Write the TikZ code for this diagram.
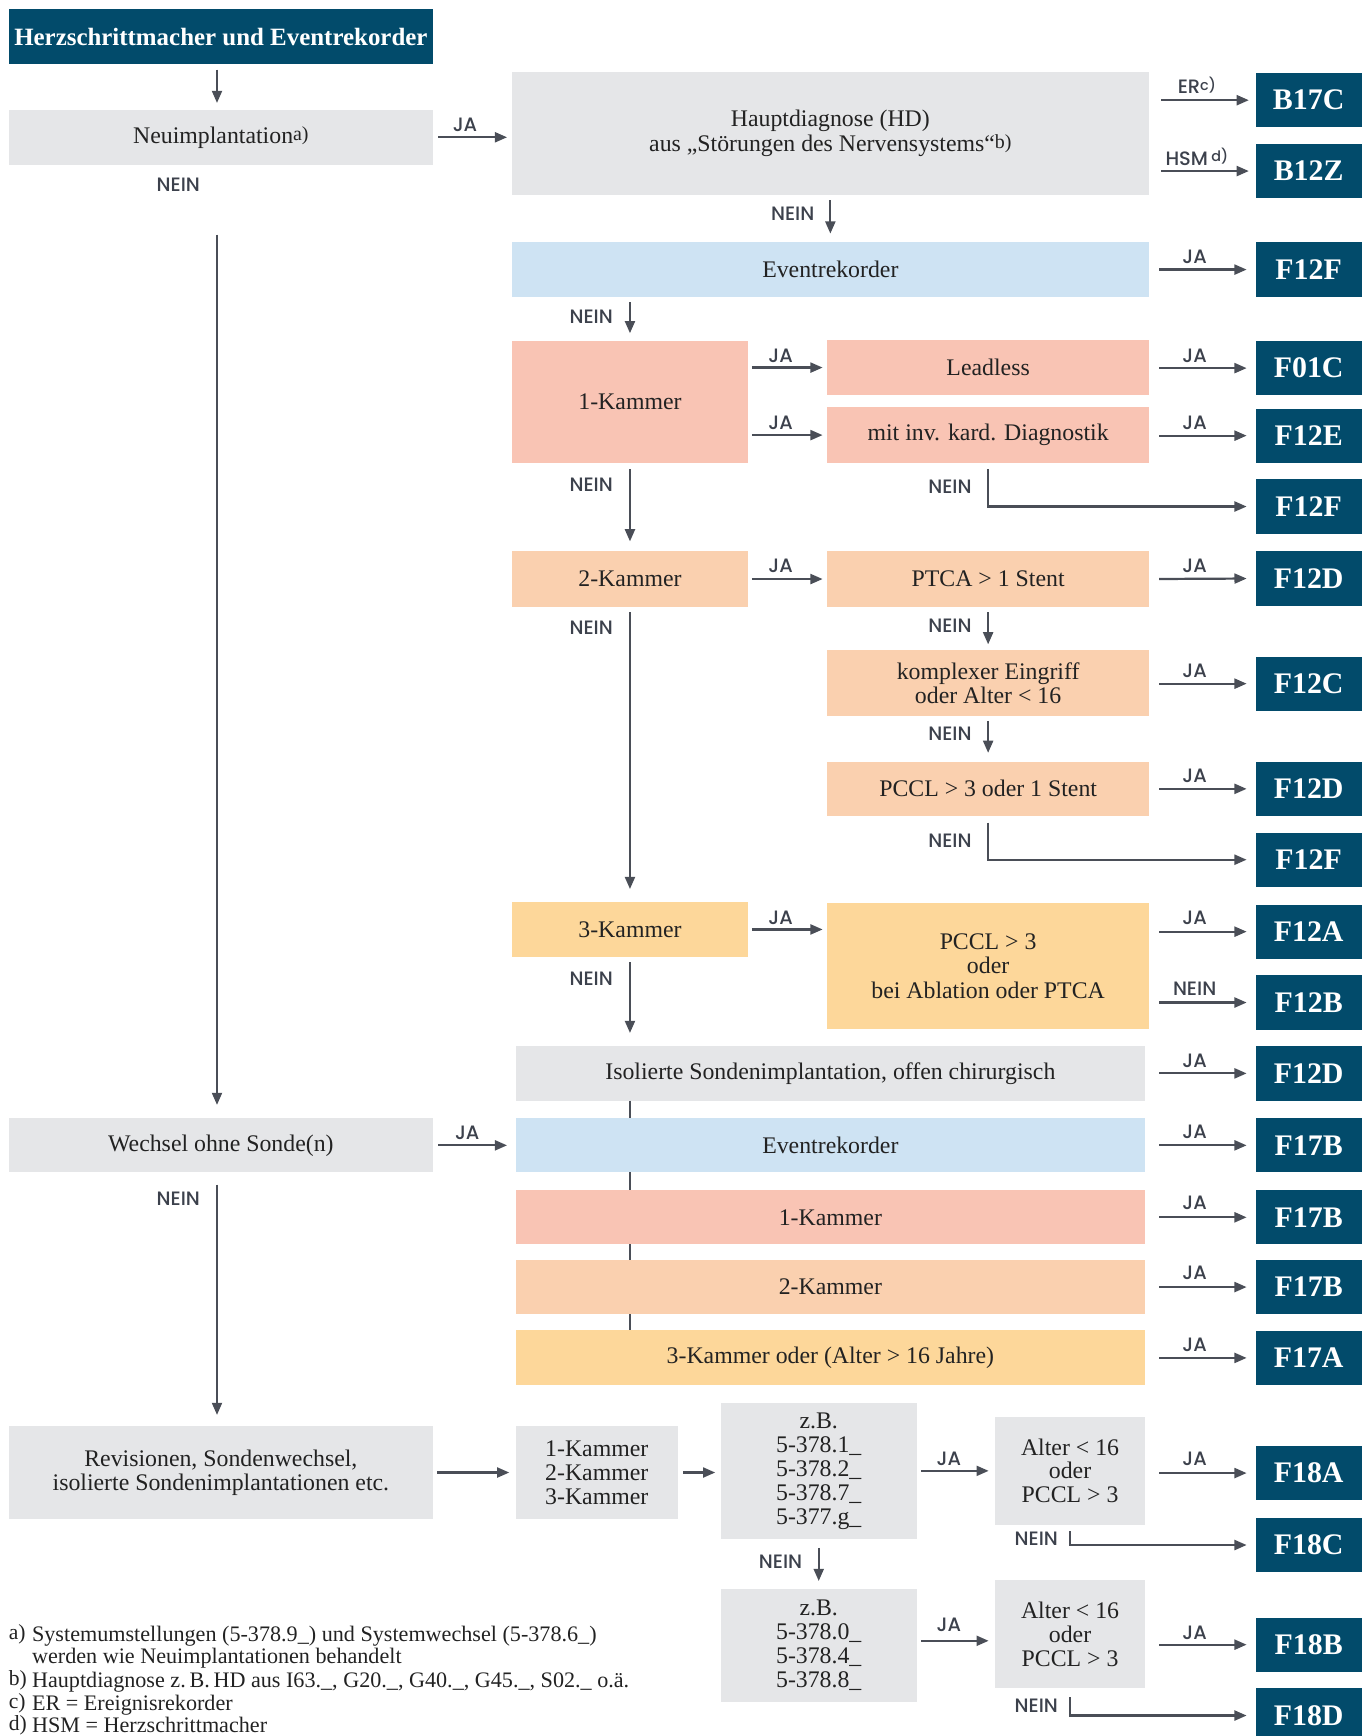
\documentclass[tikz,border=0pt]{standalone}
\usepackage{fontspec}
\setmainfont{Liberation Serif}
\newfontfamily\labfamily{Poppins Medium}
\usetikzlibrary{arrows.meta}
\definecolor{cgray}{HTML}{E5E6E8}
\definecolor{cblue}{HTML}{CEE3F3}
\definecolor{csalmon}{HTML}{F9C4B4}
\definecolor{cpeach}{HTML}{FAD0AF}
\definecolor{corange}{HTML}{FDD79A}
\definecolor{cdark}{HTML}{024B6B}
\definecolor{carr}{HTML}{4A4E57}
\definecolor{clab}{HTML}{3C414C}
\definecolor{ctxt}{HTML}{222222}
\newcommand\bodyf{\fontsize{21.5}{22}\selectfont}
\newcommand\titlef{\fontsize{22.5}{24}\selectfont\bfseries}
\newcommand\codef{\fontsize{27}{30}\selectfont\bfseries}
\newcommand\labf{\fontsize{17.5}{18}\selectfont\labfamily}
\newcommand\fnf{\fontsize{20}{21.3}\selectfont}
\newcommand\supm[1]{\raisebox{2.5pt}{\fontsize{18}{18}\selectfont #1}}
\newcommand\fnm[1]{\makebox[21pt][l]{\raisebox{2pt}{\fontsize{19.5}{19.5}\selectfont #1}}}
\newcommand\labsup[1]{\raisebox{3.5pt}{\fontsize{13}{13}\selectfont #1}}
\begin{document}
\begin{tikzpicture}[x=1pt,y=-1pt,
  every node/.style={inner sep=0pt, outer sep=0pt},
  box/.style={rectangle, align=center, text=ctxt, font=\bodyf, anchor=north west},
  code/.style={rectangle, fill=cdark, text=white, font=\codef, minimum width=96, minimum height=49, anchor=north west},
  lab/.style={font=\labf, text=clab},
  fn/.style={font=\fnf, text=ctxt, anchor=west},
  arr/.style={draw=carr, line width=2pt, -{Triangle[length=11pt,width=9pt]}},
  con/.style={draw=carr, line width=2pt},
]
\path[use as bounding box] (0,0) rectangle (1237,1568);
\clip (0,0) rectangle (1237,1568);

% ---------- boxes ----------
\node[box, fill=cdark, text=white, font=\titlef, minimum width=383, minimum height=50] (title) at (8,8) {Herzschrittmacher und Eventrekorder};
\node[box, fill=cgray, minimum width=383, minimum height=50] (neu) at (8,99) {Neuimplantation\supm{a)}};
\node[box, fill=cgray, minimum width=576, minimum height=111] (hd) at (462,65) {Hauptdiagnose (HD)\\aus „Störungen des Nervensystems“\supm{b)}};
\node[code] (b17c) at (1134,66) {B17C};
\node[code] (b12z) at (1134,130) {B12Z};
\node[box, fill=cblue, minimum width=576, minimum height=49] (ev1) at (462,219) {Eventrekorder};
\node[code] (f12fa) at (1134,219) {F12F};
\node[box, fill=csalmon, minimum width=214, minimum height=110] (k1) at (462,308) {1-Kammer};
\node[box, fill=csalmon, minimum width=291, minimum height=50] (lead) at (747,307) {Leadless};
\node[code] (f01c) at (1134,308) {F01C};
\node[box, fill=csalmon, minimum width=291, minimum height=50] (inv) at (747,368) {mit inv. kard. Diagnostik};
\node[code] (f12e) at (1134,369) {F12E};
\node[code] (f12fb) at (1134,433) {F12F};
\node[box, fill=cpeach, minimum width=214, minimum height=50] (k2) at (462,498) {2-Kammer};
\node[box, fill=cpeach, minimum width=291, minimum height=50] (ptca) at (747,498) {PTCA > 1 Stent};
\node[code] (f12da) at (1134,498) {F12D};
\node[box, fill=cpeach, minimum width=291, minimum height=60] (kompl) at (747,587) {komplexer Eingriff\\oder Alter < 16};
\node[code] (f12c) at (1134,593) {F12C};
\node[box, fill=cpeach, minimum width=291, minimum height=49] (pccla) at (747,688) {PCCL > 3 oder 1 Stent};
\node[code] (f12db) at (1134,688) {F12D};
\node[code] (f12fc) at (1134,752) {F12F};
\node[box, fill=corange, minimum width=214, minimum height=49] (k3) at (462,815) {3-Kammer};
\node[box, fill=corange, minimum width=291, minimum height=113] (pcclb) at (747,816) {PCCL > 3\\oder\\bei Ablation oder PTCA};
\node[code] (f12a) at (1134,817) {F12A};
\node[code] (f12b) at (1134,881) {F12B};
\node[box, fill=cgray, minimum width=568, minimum height=49] (iso) at (466,945) {Isolierte Sondenimplantation, offen chirurgisch};
\node[code] (f12dc) at (1134,945) {F12D};
\node[box, fill=cgray, minimum width=383, minimum height=49] (wech) at (8,1010) {Wechsel ohne Sonde(n)};
\node[box, fill=cblue, minimum width=568, minimum height=49] (ev2) at (466,1010) {Eventrekorder};
\node[code] (f17ba) at (1134,1010) {F17B};
\node[box, fill=csalmon, minimum width=568, minimum height=49] (k1b) at (466,1075) {1-Kammer};
\node[code] (f17bb) at (1134,1075) {F17B};
\node[box, fill=cpeach, minimum width=568, minimum height=49] (k2b) at (466,1138) {2-Kammer};
\node[code] (f17bc) at (1134,1138) {F17B};
\node[box, fill=corange, minimum width=568, minimum height=50] (k3b) at (466,1201) {3-Kammer oder (Alter > 16 Jahre)};
\node[code] (f17a) at (1134,1202) {F17A};
\node[box, fill=cgray, minimum width=383, minimum height=84] (rev) at (8,1288) {Revisionen, Sondenwechsel,\\isolierte Sondenimplantationen etc.};
\node[box, fill=cgray, minimum width=146, minimum height=84, font=\fontsize{21.5}{21.5}\selectfont] (kam) at (466,1288) {1-Kammer\\2-Kammer\\3-Kammer};
\node[box, fill=cgray, minimum width=177, minimum height=123, font=\fontsize{21.5}{21.7}\selectfont] (zba) at (651,1267) {z.B.\\5-378.1\_\\5-378.2\_\\5-378.7\_\\5-377.g\_};
\node[box, fill=cgray, minimum width=135, minimum height=97, font=\fontsize{21.5}{21.5}\selectfont] (alta) at (899,1280) {Alter < 16\\oder\\PCCL > 3};
\node[code] (f18a) at (1134,1306) {F18A};
\node[code] (f18c) at (1134,1371) {F18C};
\node[box, fill=cgray, minimum width=177, minimum height=102, font=\fontsize{21.5}{21.7}\selectfont] (zbb) at (651,1435) {z.B.\\5-378.0\_\\5-378.4\_\\5-378.8\_};
\node[box, fill=cgray, minimum width=135, minimum height=98, font=\fontsize{21.5}{21.5}\selectfont] (altb) at (899,1427) {Alter < 16\\oder\\PCCL > 3};
\node[code] (f18b) at (1134,1461) {F18B};
\node[code] (f18d) at (1134,1525) {F18D};

% ---------- connectors ----------
\coordinate (trunka) at (196,212);
\coordinate (trunkb) at (196,1070);
\draw[arr, shorten <=5pt, shorten >=6pt] ([xshift=-3.5pt]title.south) -- ([xshift=-3.5pt]neu.north);
\draw[arr, shorten <=5pt, shorten >=4pt] (neu.east) -- (neu.east -| hd.west);
\draw[arr, shorten >=12pt] (trunka) -- (trunka |- wech.north);
\draw[arr, shorten <=11pt, shorten >=6pt] (hd.east |- b17c.west) -- (b17c.west);
\draw[arr, shorten <=11pt, shorten >=6pt] (hd.east |- b12z.west) -- (b12z.west);
\draw[arr, shorten <=5pt, shorten >=8pt] (hd.south) -- (ev1.north);
\draw[arr, shorten <=9pt, shorten >=8pt] (ev1.east) -- (f12fa.west);
\draw[arr, shorten <=5pt, shorten >=7pt] (ev1.south -| k1.north) -- (k1.north);
\draw[arr, shorten <=3pt, shorten >=4pt] (k1.east |- lead.west) -- (lead.west);
\draw[arr, shorten <=3pt, shorten >=4pt] (k1.east |- inv.west) -- (inv.west);
\draw[arr, shorten <=9pt, shorten >=8pt] (lead.east |- f01c.west) -- (f01c.west);
\draw[arr, shorten <=9pt, shorten >=8pt] (inv.east |- f12e.west) -- (f12e.west);
\draw[arr, shorten >=8pt] ([yshift=-6pt]inv.south) |- (f12fb.west);
\draw[arr, shorten <=6pt, shorten >=9pt] (k1.south) -- (k2.north);
\draw[arr, shorten <=3pt, shorten >=4pt] (k2.east) -- (ptca.west);
\draw[arr, shorten <=9pt, shorten >=8pt] (ptca.east) -- (f12da.west);
\draw[arr, shorten <=5pt, shorten >=5pt] (ptca.south) -- (kompl.north);
\draw[arr, shorten <=9pt, shorten >=8pt] (kompl.east |- f12c.west) -- (f12c.west);
\draw[arr, shorten <=4pt, shorten >=8pt] (kompl.south) -- (pccla.north);
\draw[arr, shorten <=9pt, shorten >=8pt] (pccla.east) -- (f12db.west);
\draw[arr, shorten >=8pt] ([yshift=-6pt]pccla.south) |- (f12fc.west);
\draw[arr, shorten <=5pt, shorten >=12pt] (k2.south) -- (k3.north);
\draw[arr, shorten <=3pt, shorten >=4pt] (k3.east) -- (k3.east -| pcclb.west);
\draw[arr, shorten <=9pt, shorten >=8pt] (pcclb.east |- f12a.west) -- (f12a.west);
\draw[arr, shorten <=9pt, shorten >=8pt] (pcclb.east |- f12b.west) -- (f12b.west);
\draw[arr, shorten <=5pt, shorten >=12pt] (k3.south) -- (k3.south |- iso.north);
\draw[arr, shorten <=13pt, shorten >=8pt] (iso.east) -- (f12dc.west);
\draw[con] (k3.south |- iso.south) -- (k3.south |- ev2.north);
\draw[con] (k3.south |- ev2.south) -- (k3.south |- k1b.north);
\draw[con] (k3.south |- k1b.south) -- (k3.south |- k2b.north);
\draw[con] (k3.south |- k2b.south) -- (k3.south |- k3b.north);
\draw[arr, shorten <=5pt, shorten >=8pt] (wech.east) -- (ev2.west);
\draw[arr, shorten <=13pt, shorten >=8pt] (ev2.east) -- (f17ba.west);
\draw[arr, shorten <=13pt, shorten >=8pt] (k1b.east) -- (f17bb.west);
\draw[arr, shorten <=13pt, shorten >=8pt] (k2b.east) -- (f17bc.west);
\draw[arr, shorten <=13pt, shorten >=8pt] (k3b.east |- f17a.west) -- (f17a.west);
\draw[arr, shorten >=10pt] (trunkb) -- (trunkb |- rev.north);
\draw[arr, shorten <=4pt, shorten >=6pt] (rev.east) -- (kam.west);
\draw[arr, shorten <=5pt, shorten >=5pt] (kam.east) -- (kam.east -| zba.west);
\draw[arr, shorten <=4pt, shorten >=6pt] (zba.east |- alta.west) -- (alta.west);
\draw[arr, shorten <=13pt, shorten >=8pt] (alta.east |- f18a.west) -- (f18a.west);
\draw[arr, shorten >=8pt] ([yshift=-6pt]alta.south) |- (f18c.west);
\draw[arr, shorten <=8pt, shorten >=7pt] (zba.south) -- (zbb.north);
\draw[arr, shorten <=4pt, shorten >=6pt] ([yshift=4pt]zbb.east) -- ([yshift=4pt]zbb.east -| altb.west);
\draw[arr, shorten <=13pt, shorten >=8pt] (altb.east |- f18b.west) -- (f18b.west);
\draw[arr, shorten >=8pt] ([yshift=-8pt]altb.south) |- (f18d.west);

% ---------- labels ----------
\node[lab] (la1) at (420,113) {JA};
\node[lab] (la2) at (161,167) {NEIN};
\node[lab] (la3) at (1081,77) {ER\labsup{c)}};
\node[lab] (la4) at (1081,142) {HSM\,\labsup{d)}};
\node[lab] (la5) at (716,193) {NEIN};
\node[lab] (la6) at (1079,232) {JA};
\node[lab] (la7) at (534,286) {NEIN};
\node[lab] (la8) at (705,321) {JA};
\node[lab] (la9) at (1079,321) {JA};
\node[lab] (la10) at (705,382) {JA};
\node[lab] (la11) at (1079,382) {JA};
\node[lab] (la12) at (534,438) {NEIN};
\node[lab] (la13) at (858,440) {NEIN};
\node[lab] (la14) at (705,511) {JA};
\node[lab] (la15) at (1079,511) {JA};
\node[lab] (la16) at (534,567) {NEIN};
\node[lab] (la17) at (858,565) {NEIN};
\node[lab] (la18) at (1079,606) {JA};
\node[lab] (la19) at (858,663) {NEIN};
\node[lab] (la20) at (1079,701) {JA};
\node[lab] (la21) at (858,759) {NEIN};
\node[lab] (la22) at (705,829) {JA};
\node[lab] (la23) at (1079,829) {JA};
\node[lab] (la24) at (1079,893) {NEIN};
\node[lab] (la25) at (534,884) {NEIN};
\node[lab] (la26) at (1079,958) {JA};
\node[lab] (la27) at (422,1023) {JA};
\node[lab] (la28) at (1079,1022) {JA};
\node[lab] (la29) at (1079,1086) {JA};
\node[lab] (la30) at (1079,1150) {JA};
\node[lab] (la31) at (1079,1215) {JA};
\node[lab] (la32) at (161,1083) {NEIN};
\node[lab] (la33) at (857,1318) {JA};
\node[lab] (la34) at (1079,1318) {JA};
\node[lab] (la35) at (936,1390) {NEIN};
\node[lab] (la36) at (705,1411) {NEIN};
\node[lab] (la37) at (857,1468) {JA};
\node[lab] (la38) at (1079,1475) {JA};
\node[lab] (la39) at (936,1541) {NEIN};

% ---------- footnotes ----------
\node[fn] (fn1) at (8,1477) {\fnm{a)}Systemumstellungen (5-378.9\_) und Systemwechsel (5-378.6\_)};
\node[fn] (fn2) at (29,1498) {werden wie Neuimplantationen behandelt};
\node[fn] (fn3) at (8,1519) {\fnm{b)}Hauptdiagnose z.\,B.\,HD aus I63.\_, G20.\_, G40.\_, G45.\_, S02.\_ o.ä.};
\node[fn] (fn4) at (8,1539.5) {\fnm{c)}ER = Ereignisrekorder};
\node[fn] (fn5) at (8,1558) {\fnm{d)}HSM = Herzschrittmacher};
\end{tikzpicture}
\end{document}
